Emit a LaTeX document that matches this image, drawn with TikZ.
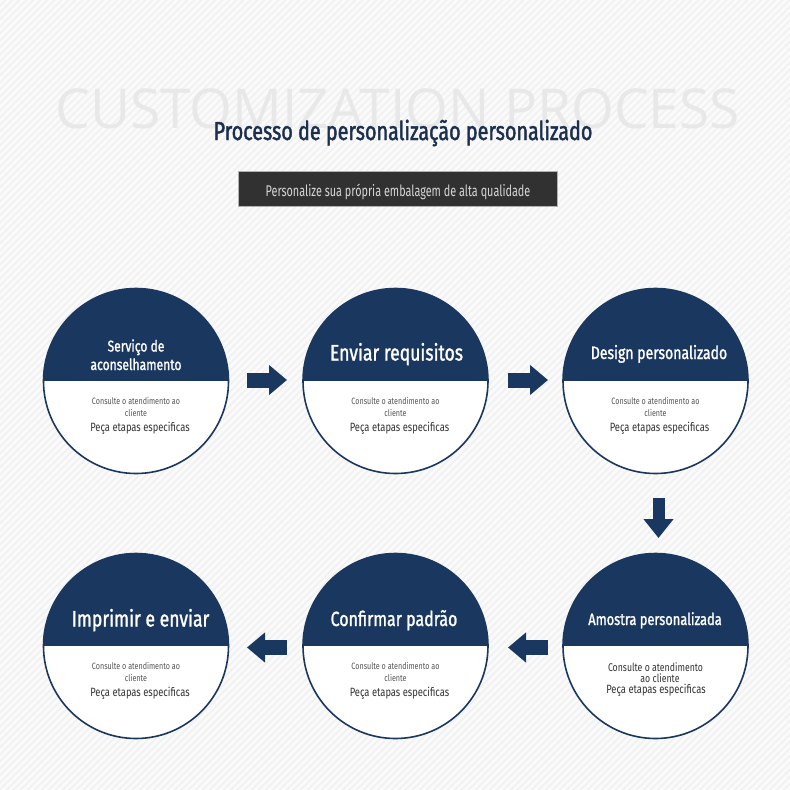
\documentclass[tikz,border=0pt]{standalone}
\usepackage{fontspec}
\setmainfont{Fira Sans}
\newfontfamily\cond[FakeStretch=0.78]{Fira Sans}
\newfontfamily\condh[FakeStretch=0.78,FakeBold=1.3]{Fira Sans}
\newfontfamily\condt[FakeStretch=0.76,FakeBold=1.6]{Fira Sans}
\newfontfamily\condb[FakeStretch=0.70]{Fira Sans}
\newfontfamily\wmfont{Open Sans}
\usetikzlibrary{arrows.meta}
\definecolor{navy}{HTML}{1A375F}
\definecolor{titlec}{HTML}{1C2F4E}
\definecolor{bgc}{HTML}{F1F1F1}
\definecolor{stripec}{HTML}{FAFAFA}
\definecolor{wmc}{HTML}{E8E8E8}
\definecolor{boxc}{HTML}{313131}
\definecolor{boxtext}{HTML}{D6D6D6}
\definecolor{smallc}{HTML}{555555}
\definecolor{midc}{HTML}{333333}
\tikzset{
  stepcircle/.style={circle, minimum size=185pt, inner sep=0pt, outer sep=0pt,
    fill=white, draw=navy, line width=1.6pt,
    path picture={\fill[navy] ([xshift=-2pt,yshift=2pt]path picture bounding box.north west) rectangle ([xshift=2pt]path picture bounding box.east);}},
  headtxt/.style={anchor=base, text=white, inner sep=0pt, font=\condh\fontsize{#1}{#1}\selectfont},
  smalltxt/.style={anchor=base, text=smallc, inner sep=0pt, font=\cond\fontsize{#1}{#1}\selectfont},
  midtxt/.style={anchor=base, text=midc, inner sep=0pt, font=\cond\fontsize{#1}{#1}\selectfont},
  harrow/.style={draw=navy, line width=15pt, -{Triangle[length=18pt,width=29pt]}},
  varrow/.style={draw=navy, line width=12pt, -{Triangle[length=19pt,width=29pt]}}
}
\begin{document}
\begin{tikzpicture}[x=1pt,y=-1pt]
\useasboundingbox (0,0) rectangle (790,790);
\fill[bgc] (0,0) rectangle (790,790);
\begin{scope}
  \clip (0,0) rectangle (790,790);
  \foreach \i in {-800,-793,...,800} \draw[stripec, line width=3pt] (\i,795) -- (\i+800,-5);
\end{scope}
% watermark and headings
\node[anchor=base, text=wmc, inner sep=0pt, font=\wmfont\fontsize{55}{55}\selectfont] (wm) at (397.5,128) {CUSTOMIZATION PROCESS};
\node[anchor=base, text=titlec, inner sep=0pt, font=\condt\fontsize{26}{26}\selectfont] (title) at (403,140) {Processo de personalização personalizado};
\node[fill=boxc, draw=gray!60, line width=0.6pt, minimum width=319pt, minimum height=35pt, inner sep=0pt] (sub) at (397.5,188.5) {};
\node[anchor=base, text=boxtext, inner sep=0pt, font=\condb\fontsize{15.5}{15.5}\selectfont] (subt) at (398,196.5) {Personalize sua própria embalagem de alta qualidade};
% circles
\node[stepcircle] (s1) at (136,381) {};
\node[stepcircle] (s2) at (395.5,381) {};
\node[stepcircle] (s3) at (655.5,381) {};
\node[stepcircle] (s6) at (655.5,646) {};
\node[stepcircle] (s5) at (395.5,646) {};
\node[stepcircle] (s4) at (136,646) {};
% headings in circles
\node[headtxt=15.5] (h1a) at (136,351.5) {Serviço de};
\node[headtxt=15.5] (h1b) at (136,370) {aconselhamento};
\node[headtxt=22.5] (h2) at (396.5,360.5) {Enviar requisitos};
\node[headtxt=18] (h3) at (659,359) {Design personalizado};
\node[headtxt=16.5] (h6) at (655,625) {Amostra personalizada};
\node[headtxt=20.5] (h5) at (394,626) {Confirmar padrão};
\node[headtxt=22.5] (h4) at (140.5,626.5) {Imprimir e enviar};
% lower texts
\foreach \n/\cx/\by in {a/136/404, b/395.5/404, c/655.5/404, d/136/669, e/395.5/669}{
  \node[smalltxt=9.2] (c\n) at (\cx,\by) {Consulte o atendimento ao};
  \node[smalltxt=9.2] (l\n) at (\cx,\by+12.7) {cliente};
  \node[midtxt=12] (p\n) at (\cx+4,\by+27.7) {Peça etapas especificas};
}
\node[midtxt=11.2] (cf) at (655.5,671) {Consulte o atendimento};
\node[midtxt=11.2] (lf) at (660,682.5) {ao cliente};
\node[midtxt=12] (pf) at (656,693) {Peça etapas especificas};
% arrows
\draw[harrow] ([xshift=18.5pt,yshift=1pt]s1.east) -- ([xshift=-16pt,yshift=1pt]s2.west);
\draw[harrow] ([xshift=19.5pt,yshift=1pt]s2.east) -- ([xshift=-15pt,yshift=1pt]s3.west);
\draw[varrow] ([xshift=3pt,yshift=-24.5pt]s3.south) -- ([xshift=3pt,yshift=15.5pt]s6.north);
\draw[harrow] ([xshift=-15pt,yshift=-1.5pt]s6.west) -- ([xshift=20pt,yshift=-1.5pt]s5.east);
\draw[harrow] ([xshift=-16pt,yshift=-1.5pt]s5.west) -- ([xshift=18.5pt,yshift=-1.5pt]s4.east);
\end{tikzpicture}
\end{document}
